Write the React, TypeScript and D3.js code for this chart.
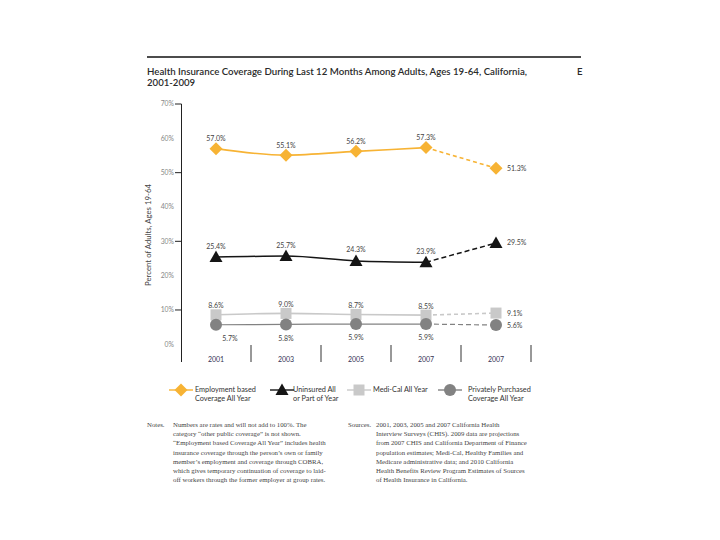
import React from "react";
import * as d3 from "d3";

const categories = ["2001", "2003", "2005", "2007", "2007"];
const employment = [57.0, 55.1, 56.2, 57.3, 51.3];
const uninsured = [25.4, 25.7, 24.3, 23.9, 29.5];
const mediCal = [8.6, 9.0, 8.7, 8.5, 9.1];
const privatePurchased = [5.7, 5.8, 5.9, 5.9, 5.6];
const employmentLabels = ["57.0%", "55.1%", "56.2%", "57.3%", "51.3%"];
const uninsuredLabels = ["25.4%", "25.7%", "24.3%", "23.9%", "29.5%"];
const mediCalLabels = ["8.6%", "9.0%", "8.7%", "8.5%", "9.1%"];
const privateLabels = ["5.7%", "5.8%", "5.9%", "5.9%", "5.6%"];
const yTicks = [0, 10, 20, 30, 40, 50, 60, 70];
const tickMarks = [10, 30, 50, 70];

const notesLines = [
  "Numbers are rates and will not add to 100%. The",
  "category \u201cother public coverage\u201d is not shown.",
  "\u201cEmployment based Coverage All Year\u201d includes health",
  "insurance coverage through the person\u2019s own or family",
  "member\u2019s employment and coverage through COBRA,",
  "which gives temporary continuation of coverage to laid-",
  "off workers through the former employer at group rates.",
];
const sourcesLines = [
  "2001, 2003, 2005 and 2007 California Health",
  "Interview Surveys (CHIS). 2009 data are projections",
  "from 2007 CHIS and California Department of Finance",
  "population estimates; Medi-Cal, Healthy Families and",
  "Medicare administrative data; and 2010 California",
  "Health Benefits Review Program Estimates of Sources",
  "of Health Insurance in California.",
];

const ORANGE = "#F7B334";
const BLACK = "#151515";
const LIGHT = "#C9C9C9";
const GRAY = "#828282";
const SANS = "Lato, 'Open Sans', sans-serif";
const SERIF = "'Liberation Serif', 'DejaVu Serif', serif";

const x = d3.scalePoint<number>().domain(d3.range(categories.length)).range([216, 496]);
const y = d3.scaleLinear().domain([0, 70]).range([344.3, 104]);
const step = x.step();

const solidLine = d3
  .line<number>()
  .x((_, i) => x(i)!)
  .y((d) => y(d))
  .curve(d3.curveMonotoneX);

function solidPath(vals: number[]) {
  return solidLine(vals.slice(0, 4)) || "";
}
function dashPath(vals: number[]) {
  return `M${x(3)},${y(vals[3])}L${x(4)},${y(vals[4])}`;
}

type MarkerKind = "diamond" | "triangle" | "square" | "circle";
function Marker({ kind, cx, cy, fill }: { kind: MarkerKind; cx: number; cy: number; fill: string }) {
  if (kind === "diamond")
    return <path d={`M${cx},${cy - 6.5}L${cx + 6.5},${cy}L${cx},${cy + 6.5}L${cx - 6.5},${cy}Z`} fill={fill} />;
  if (kind === "triangle")
    return <path d={`M${cx},${cy - 6.5}L${cx + 6.5},${cy + 5}L${cx - 6.5},${cy + 5}Z`} fill={fill} />;
  if (kind === "square") return <rect x={cx - 5.5} y={cy - 5.5} width={11} height={11} fill={fill} />;
  return <circle cx={cx} cy={cy} r={6} fill={fill} />;
}

const series = [
  { vals: employment, labels: employmentLabels, color: ORANGE, kind: "diamond" as MarkerKind, w: 1.6, dy: -10, dash: "4,3" },
  { vals: uninsured, labels: uninsuredLabels, color: BLACK, kind: "triangle" as MarkerKind, w: 1.5, dy: -11, dash: "5,3" },
  { vals: mediCal, labels: mediCalLabels, color: LIGHT, kind: "square" as MarkerKind, w: 1.6, dy: -9, dash: "4,3" },
  { vals: privatePurchased, labels: privateLabels, color: GRAY, kind: "circle" as MarkerKind, w: 1.2, dy: 14, dash: "5,3" },
];

const legendItems = [
  { kind: "diamond" as MarkerKind, color: ORANGE, cx: 181, tx: 195, lines: ["Employment based", "Coverage All Year"] },
  { kind: "triangle" as MarkerKind, color: BLACK, cx: 282, tx: 293, lines: ["Uninsured All", "or Part of Year"] },
  { kind: "square" as MarkerKind, color: LIGHT, cx: 359, tx: 373, lines: ["Medi-Cal All Year"] },
  { kind: "circle" as MarkerKind, color: GRAY, cx: 450, tx: 468, lines: ["Privately Purchased", "Coverage All Year"] },
];

export default function App() {
  return (
    <svg width={720} height={540} style={{ position: "absolute", left: 0, top: 0, background: "#fff" }}>
      <rect width={720} height={540} fill="#fff" />
      <line x1={147} x2={581} y1={57} y2={57} stroke="#111" strokeWidth={1.6} />
      <text x={147} y={75} fontFamily={SANS} fontSize={9.6} fontWeight={600} fill="#2a2a2a" textLength={380} lengthAdjust="spacingAndGlyphs">
        Health Insurance Coverage During Last 12 Months Among Adults, Ages 19-64, California,
      </text>
      <text x={147} y={85.5} fontFamily={SANS} fontSize={9.6} fontWeight={600} fill="#2a2a2a">
        2001-2009
      </text>
      <text x={577} y={75} fontFamily={SANS} fontSize={9.6} fontWeight={600} fill="#2a2a2a">
        E
      </text>

      <line x1={181.5} x2={181.5} y1={y(70)} y2={362} stroke="#222" strokeWidth={1} />
      {tickMarks.map((t) => (
        <line key={t} x1={175} x2={181.5} y1={y(t)} y2={y(t)} stroke="#222" strokeWidth={1} />
      ))}
      {yTicks.map((t) => (
        <text key={t} x={174} y={y(t)} dy="0.35em" textAnchor="end" fontFamily={SANS} fontSize={6.8} fill="#888">
          {`${t}%`}
        </text>
      ))}
      <text transform={`translate(151,235) rotate(-90)`} textAnchor="middle" fontFamily={SANS} fontSize={7.8} fill="#444">
        Percent of Adults, Ages 19-64
      </text>

      {categories.map((c, i) => (
        <g key={i}>
          <line x1={x(i)! + step / 2} x2={x(i)! + step / 2} y1={345} y2={362} stroke="#333" strokeWidth={1} />
          <text x={x(i)!} y={360} dy="0.35em" textAnchor="middle" fontFamily={SANS} fontSize={7} fill="#335">
            {c}
          </text>
        </g>
      ))}

      {series.map((s, si) => (
        <g key={si}>
          <path d={solidPath(s.vals)} fill="none" stroke={s.color} strokeWidth={s.w} />
          <path d={dashPath(s.vals)} fill="none" stroke={s.color} strokeWidth={s.w} strokeDasharray={s.dash} />
          {s.vals.map((v, i) => (
            <Marker key={i} kind={s.kind} cx={x(i)!} cy={y(v)} fill={s.color} />
          ))}
          {s.labels.map((l, i) =>
            i === 4 ? (
              <text key={i} x={x(i)! + 11} y={y(s.vals[i])} dy="0.35em" fontFamily={SANS} fontSize={7} fill="#444">
                {l}
              </text>
            ) : (
              <text
                key={i}
                x={x(i)! + (si === 3 && i === 0 ? 14 : 0)}
                y={y(s.vals[i]) + s.dy}
                dy="0.35em"
                textAnchor="middle"
                fontFamily={SANS}
                fontSize={7}
                fill="#444"
              >
                {l}
              </text>
            )
          )}
        </g>
      ))}

      {legendItems.map((it, i) => (
        <g key={i}>
          <line x1={it.cx - 12} x2={it.cx + 12} y1={390} y2={390} stroke={it.color} strokeWidth={1.4} />
          <Marker kind={it.kind} cx={it.cx} cy={390} fill={it.color} />
          {it.lines.map((ln, j) => (
            <text key={j} x={it.tx} y={392 + j * 8.5} fontFamily={SANS} fontSize={7.3} fill="#333">
              {ln}
            </text>
          ))}
        </g>
      ))}

      <text x={147} y={427} fontFamily={SERIF} fontSize={6.8} fill="#444">
        Notes.
      </text>
      {notesLines.map((ln, i) => (
        <text key={i} x={173} y={427 + i * 9.2} fontFamily={SERIF} fontSize={6.8} fill="#444">
          {ln}
        </text>
      ))}
      <text x={348} y={427} fontFamily={SERIF} fontSize={6.8} fill="#444">
        Sources.
      </text>
      {sourcesLines.map((ln, i) => (
        <text key={i} x={376} y={427 + i * 9.2} fontFamily={SERIF} fontSize={6.8} fill="#444">
          {ln}
        </text>
      ))}
    </svg>
  );
}
